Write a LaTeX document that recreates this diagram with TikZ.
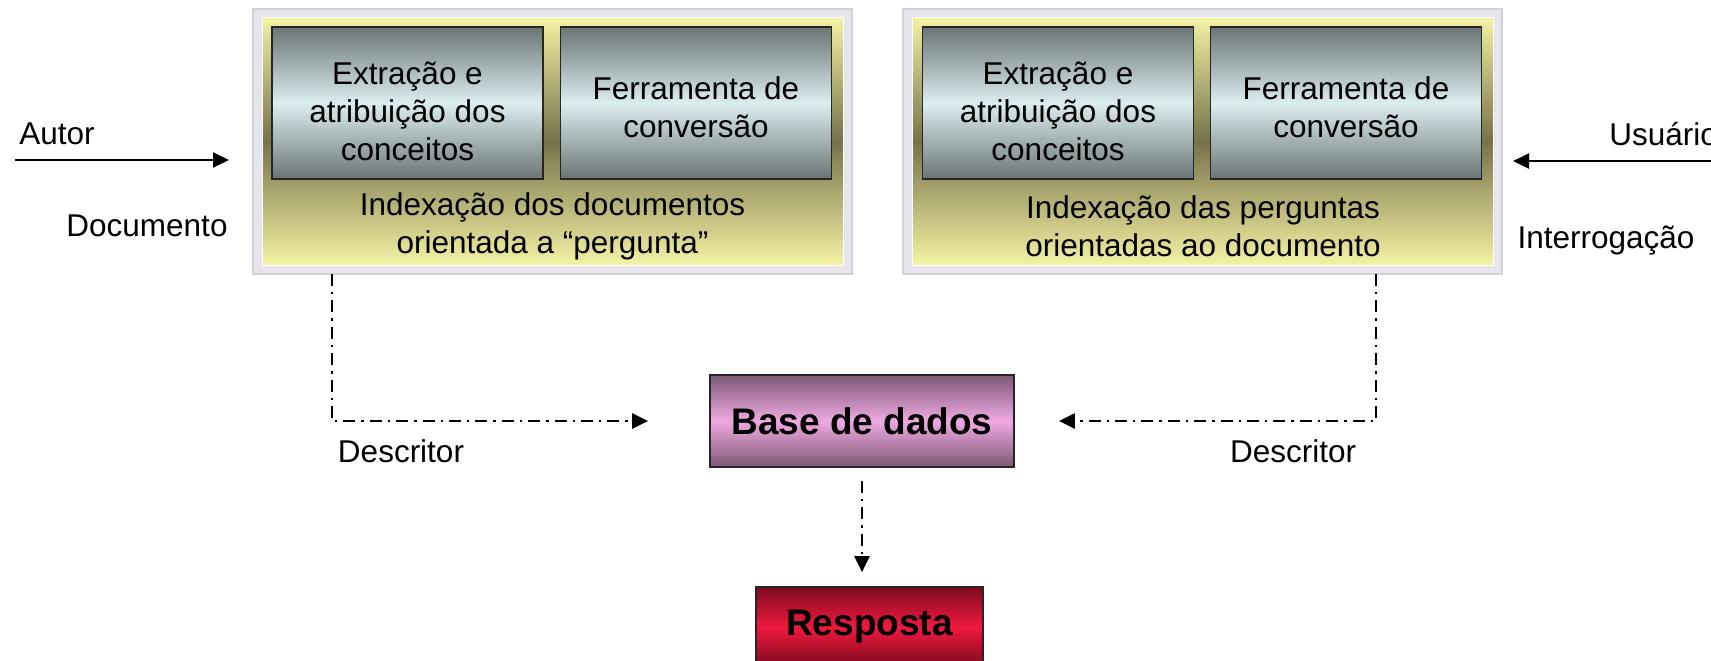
\documentclass[tikz,border=0pt]{standalone}
\usepackage{fontspec}
\setmainfont{Liberation Sans}
\usetikzlibrary{arrows.meta}
\definecolor{framefill}{HTML}{E8E4EB}
\definecolor{frameedge}{HTML}{D4D0D8}
\definecolor{yellowlight}{HTML}{F4F2A4}
\definecolor{yellowdark}{HTML}{77724A}
\definecolor{graydark}{HTML}{6A7474}
\definecolor{graylight}{HTML}{DCEDF0}
\definecolor{mauvedark}{HTML}{7C5874}
\definecolor{mauvelight}{HTML}{EFA9E2}
\definecolor{reddark}{HTML}{7E0A1E}
\definecolor{redlight}{HTML}{F0193F}
\tikzset{
  txt/.style={font=\fontsize{15.75}{19}\selectfont, inner sep=0pt, align=center},
  frame/.style={draw=frameedge, line width=1pt, fill=framefill, minimum width=299.5pt, minimum height=132.5pt, inner sep=0pt},
  ybox/.style={draw=white, line width=0.5pt, top color=yellowlight, bottom color=yellowlight, middle color=yellowdark, minimum width=290.5pt, minimum height=124pt, inner sep=0pt},
  gbox/.style={draw=black!85, line width=0.8pt, top color=graydark, bottom color=graydark, middle color=graylight, minimum width=135.5pt, minimum height=76pt, inner sep=0pt},
  dbbox/.style={draw=black!85, line width=0.9pt, top color=mauvedark, bottom color=mauvedark, middle color=mauvelight, minimum width=152pt, minimum height=46pt, font=\fontsize{18.5}{22}\selectfont\bfseries},
  resbox/.style={draw=black!85, line width=0.9pt, top color=reddark, bottom color=reddark, middle color=redlight, minimum width=113.5pt, minimum height=40pt, font=\fontsize{18.5}{22}\selectfont\bfseries},
  solidarrow/.style={line width=1.1pt, -{Triangle[length=8pt,width=7.5pt]}},
  dd/.style={line width=1.2pt, dash pattern=on 6pt off 3pt on 1.2pt off 3pt, -{Triangle[length=8pt,width=7.5pt]}}
}
\begin{document}
\begin{tikzpicture}[x=0.5pt,y=-0.5pt]
\useasboundingbox (0,0) rectangle (1711,660);
% left block
\node[frame] (lf) at (552.5,141.5) {};
\node[ybox] (ly) at (552.5,141) {};
\node[gbox] (lg1) at (407.5,103) {};
\node[txt] (lg1t) at ([yshift=-4.3pt]lg1.center) {Extração e\\atribuição dos\\conceitos};
\node[gbox] (lg2) at (696,103) {};
\node[txt] (lg2t) at ([yshift=-2pt]lg2.center) {Ferramenta de\\conversão};
\node[txt] (lt) at (552.5,226.5) {Indexação dos documentos\\orientada a “pergunta”};
% right block
\node[frame] (rf) at (1202.5,141.5) {};
\node[ybox] (ry) at (1203,141) {};
\node[gbox] (rg1) at (1058,103) {};
\node[txt] (rg1t) at ([yshift=-4.3pt]rg1.center) {Extração e\\atribuição dos\\conceitos};
\node[gbox] (rg2) at (1346,103) {};
\node[txt] (rg2t) at ([yshift=-2pt]rg2.center) {Ferramenta de\\conversão};
\node[txt] (rt) at (1203,226.5) {Indexação das perguntas\\orientadas ao documento};
% center
\node[dbbox] (db) at (862,421) {Base de dados};
\node[resbox] (res) at (869.5,627) {Resposta};
% side labels
\node[txt] (autor) at (57,134) {Autor};
\node[txt] (doc) at (147,226) {Documento};
\node[txt, anchor=west] (usu) at (1609,134) {Usuário};
\node[txt] (interr) at (1606,241) {Interrogação};
\node[txt] (descl) at (401,451) {Descritor};
\node[txt] (descr) at (1293,451) {Descritor};
% connectors
\coordinate (a1) at (15,160);
\coordinate (a2) at (229,160);
\draw[solidarrow] (a1) -- (a2);
\coordinate (u1) at (1711,161);
\coordinate (u2) at (1513,161);
\draw[solidarrow] (u1) -- (u2);
\coordinate (lx) at (332,274);
\coordinate (rx) at (1376,274);
\draw[dd] (lx) |- ([xshift=-30.5pt]db.west);
\draw[dd] (rx) |- ([xshift=22pt]db.east);
\draw[dd] ([yshift=-6.5pt]db.south) -- ([yshift=7pt]db.south |- res.north);
\end{tikzpicture}
\end{document}
